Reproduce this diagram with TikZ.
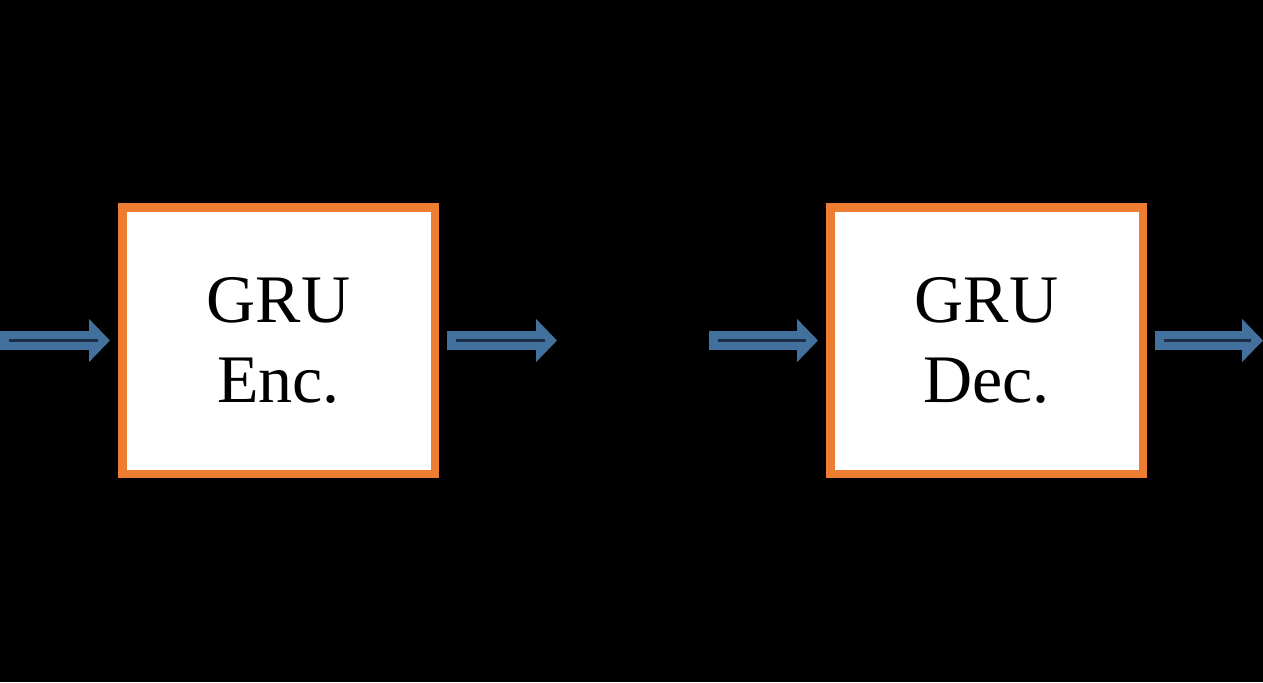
\documentclass[tikz,border=0pt]{standalone}
\usepackage{fontspec}
\setmainfont{Liberation Serif}
\usepackage{tikz}
\usetikzlibrary{arrows.meta, positioning}

\definecolor{boxorange}{HTML}{ED7D31}
\definecolor{flowblue}{HTML}{41719C}
\definecolor{flowdark}{HTML}{1C2E4A}

\tikzset{
    gru/.style={draw=boxorange, line width=4.25pt, fill=white, outer sep=6.125pt,
        minimum width=156.25pt, minimum height=133.25pt, align=center,
        font=\fontsize{34}{40}\selectfont},
    flow/.style={draw=flowblue, line width=9.75pt, -{Triangle[width=21pt, length=10.5pt]},
        postaction={draw=flowdark, line width=1.25pt, -, shorten <=4.25pt, shorten >=6pt}}
}

\begin{document}
\begin{tikzpicture}[x=0.5pt, y=0.5pt]
    \fill[black] (0,0) rectangle (1263,682);
    \useasboundingbox (0,0) rectangle (1263,682);
    \node[gru] (enc) at (278.5,341.5) {GRU\\Enc.};
    \node[gru, right=185.5pt of enc] (dec) {GRU\\Dec.};
    \coordinate[left=55pt of enc] (src);
    \coordinate[right=55pt of enc] (ctx);
    \coordinate[left=54.5pt of dec] (ctxin);
    \coordinate[right=54pt of dec] (out);
    \draw[flow] (src) -- (enc);
    \draw[flow] (enc) -- (ctx);
    \draw[flow] (ctxin) -- (dec);
    \draw[flow] (dec) -- (out);
\end{tikzpicture}
\end{document}
